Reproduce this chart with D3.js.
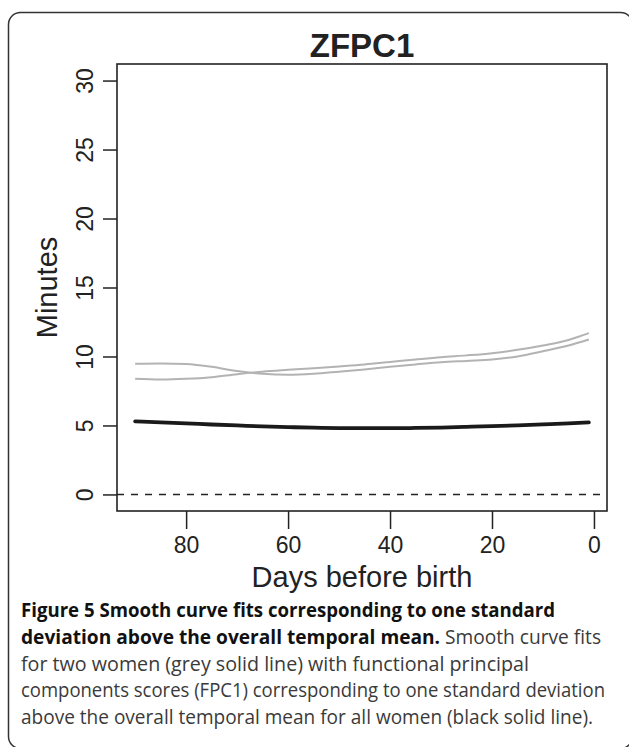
<!DOCTYPE html>
<html>
<head>
<meta charset="utf-8">
<script src="https://cdn.jsdelivr.net/npm/d3@7"></script>
<style>
body { margin:0; background:#fff; }
</style>
</head>
<body>
<svg id="chart" width="629" height="747"></svg>
<script>
// data
var days = [90, 85, 80, 75, 70, 65, 60, 55, 50, 45, 40, 35, 30, 25, 20, 15, 10, 5, 1];
var womanA = [9.47, 9.5, 9.45, 9.25, 8.95, 8.75, 8.68, 8.75, 8.9, 9.06, 9.25, 9.42, 9.58, 9.68, 9.78, 10.0, 10.38, 10.8, 11.23];
var womanB = [8.38, 8.33, 8.38, 8.5, 8.72, 8.9, 9.03, 9.15, 9.28, 9.42, 9.6, 9.78, 9.95, 10.08, 10.24, 10.48, 10.8, 11.2, 11.69];
var meanCurve = [5.3, 5.22, 5.15, 5.07, 5.0, 4.93, 4.88, 4.84, 4.81, 4.8, 4.8, 4.82, 4.85, 4.9, 4.95, 5.01, 5.08, 5.15, 5.22];
var yTicks = [0, 5, 10, 15, 20, 25, 30];
var xTicks = [80, 60, 40, 20, 0];

var captionLines = [
  [["Figure 5 Smooth curve fits corresponding to one standard", true]],
  [["deviation above the overall temporal mean.", true], [" Smooth curve fits", false]],
  [["for two women (grey solid line) with functional principal", false]],
  [["components scores (FPC1) corresponding to one standard deviation", false]],
  [["above the overall temporal mean for all women (black solid line).", false]]
];
var captionWidths = [534, 580, 508, 584, 572];

var svg = d3.select("#chart");

// outer rounded frame
svg.append("rect")
  .attr("x", 8.5).attr("y", 12.5)
  .attr("width", 624).attr("height", 736)
  .attr("rx", 12).attr("ry", 12)
  .style("fill", "none").style("stroke", "#333").style("stroke-width", 1.5);

var plot = {left:117, right:607, top:64, bottom:511};

// R-style 4% padding
var x = d3.scaleLinear().domain([93.56, -2.56]).range([plot.left, plot.right]);
var y = d3.scaleLinear().domain([-1.2, 31.2]).range([plot.bottom, plot.top]);

var fontR = "Liberation Sans, Arial, Helvetica, sans-serif";

// title
svg.append("text")
  .attr("x", (plot.left + plot.right) / 2).attr("y", 57)
  .attr("text-anchor", "middle")
  .attr("font-family", fontR).attr("font-weight", "bold").attr("font-size", "33px")
  .attr("fill", "#222")
  .text("ZFPC1");

// zero line
svg.append("line")
  .attr("x1", plot.left).attr("x2", plot.right)
  .attr("y1", y(0)).attr("y2", y(0))
  .style("stroke", "#222").style("stroke-width", 1.5)
  .style("stroke-dasharray", "7,7");

var line = d3.line()
  .x(function(d, i) { return x(days[i]); })
  .y(function(d) { return y(d); })
  .curve(d3.curveMonotoneX);

[womanA, womanB].forEach(function(s) {
  svg.append("path").datum(s)
    .attr("d", line)
    .style("fill", "none").style("stroke", "#b3b3b3").style("stroke-width", 2);
});

svg.append("path").datum(meanCurve)
  .attr("d", line)
  .style("fill", "none").style("stroke", "#1a1a1a").style("stroke-width", 3.8)
  .style("stroke-linecap", "round");

// box
svg.append("rect")
  .attr("x", plot.left).attr("y", plot.top)
  .attr("width", plot.right - plot.left).attr("height", plot.bottom - plot.top)
  .style("fill", "none").style("stroke", "#222").style("stroke-width", 1.6);

// y axis
var yAxis = svg.append("g").attr("transform", "translate(" + plot.left + ",0)")
  .call(d3.axisLeft(y).tickValues(yTicks).tickSize(14).tickPadding(10));
yAxis.select(".domain").remove();
yAxis.selectAll(".tick line").style("stroke", "#222").style("stroke-width", 1.5);
yAxis.selectAll(".tick text")
  .attr("font-family", fontR).attr("font-size", "23px").attr("fill", "#222")
  .attr("transform", "rotate(-90)")
  .attr("x", 0).attr("y", -24)
  .attr("dy", 0)
  .attr("text-anchor", "middle");

// x axis
var xAxis = svg.append("g").attr("transform", "translate(0," + plot.bottom + ")")
  .call(d3.axisBottom(x).tickValues(xTicks).tickSize(18).tickPadding(8));
xAxis.select(".domain").remove();
xAxis.selectAll(".tick line").style("stroke", "#222").style("stroke-width", 1.5);
xAxis.selectAll(".tick text")
  .attr("font-family", fontR).attr("font-size", "23px").attr("fill", "#222")
  .attr("y", 42).attr("dy", 0);

// axis titles
svg.append("text")
  .attr("x", (plot.left + plot.right) / 2).attr("y", 587)
  .attr("text-anchor", "middle")
  .attr("font-family", fontR).attr("font-size", "29px").attr("fill", "#222")
  .text("Days before birth");

svg.append("text")
  .attr("transform", "translate(57," + y(15) + ") rotate(-90)")
  .attr("text-anchor", "middle")
  .attr("font-family", fontR).attr("font-size", "29px").attr("fill", "#222")
  .text("Minutes");

// caption
var cap = svg.append("g");
captionLines.forEach(function(parts, i) {
  var t = cap.append("text")
    .attr("x", 21).attr("y", 617 + i * 26.8)
    .attr("font-family", "Open Sans, Noto Sans, sans-serif")
    .attr("font-size", "20px")
    .attr("textLength", captionWidths[i])
    .attr("lengthAdjust", "spacingAndGlyphs");
  parts.forEach(function(p) {
    t.append("tspan")
      .attr("font-weight", p[1] ? "bold" : "normal")
      .attr("fill", p[1] ? "#111" : "#3a3a3a")
      .text(p[0]);
  });
});
</script>
</body>
</html>
